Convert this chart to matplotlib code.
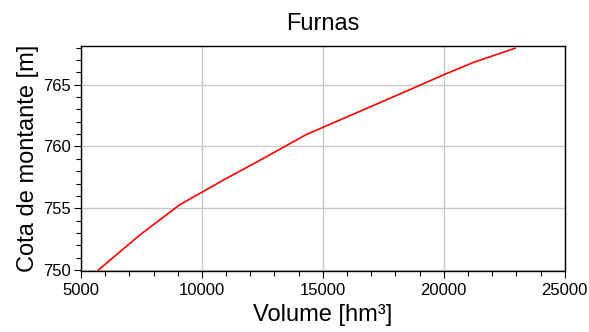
import numpy as np
import matplotlib
matplotlib.use("Agg")
import matplotlib.pyplot as plt
from matplotlib.ticker import MultipleLocator

plt.rcParams['font.family'] = ['Liberation Sans', 'DejaVu Sans']

# curva cota-volume
volume = [5716, 7440, 9094, 11000, 12600, 14300, 16480, 18250, 20000, 21226, 22950]
cota = [750.0, 752.85, 755.3, 757.4, 759.1, 760.95, 762.8, 764.3, 765.8, 766.8, 767.95]

fig = plt.figure(figsize=(5.89, 3.32), dpi=100)
ax = fig.add_axes([0.1375, 0.1846, 0.8213, 0.6777])

ax.plot(volume, cota, color='red', lw=1.2, zorder=3)

ax.set_xlim(5000, 25000)
ax.set_ylim(749.95, 768.15)
ax.xaxis.set_major_locator(MultipleLocator(5000))
ax.xaxis.set_minor_locator(MultipleLocator(1000))
ax.yaxis.set_major_locator(MultipleLocator(5))
ax.yaxis.set_minor_locator(MultipleLocator(1))
ax.grid(True, which='major', color='#c8c8c8', lw=1)
ax.set_axisbelow(True)
ax.tick_params(which='major', length=5, width=0.8, labelsize=12, pad=2)
ax.tick_params(axis='x', which='major', pad=4)
ax.tick_params(which='minor', length=3.5, width=0.8)
for s in ax.spines.values():
    s.set_linewidth(1)
    s.set_color('black')

ax.set_title('Furnas', fontsize=17, pad=11)
ax.set_xlabel('Volume [hm³]', fontsize=17, labelpad=4)
ax.set_ylabel('Cota de montante [m]', fontsize=17, labelpad=3)

fig.savefig('out.png', dpi=100)
